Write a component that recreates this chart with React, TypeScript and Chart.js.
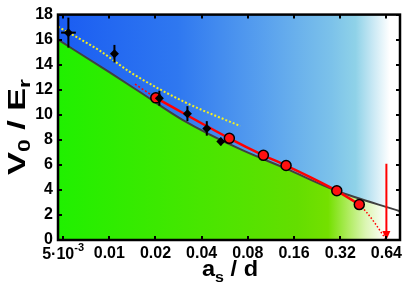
import React, { useEffect, useRef } from 'react';
import { Chart, registerables } from 'chart.js';
Chart.register(...registerables);

// ---------- data ----------
const xTickValues = [0.005, 0.01, 0.02, 0.04, 0.08, 0.16, 0.32, 0.64];
const xTickLabels = ['5·10', '0.01', '0.02', '0.04', '0.08', '0.16', '0.32', '0.64'];
const firstTickSup = '-3';
const yTickValues = [0, 2, 4, 6, 8, 10, 12, 14, 16, 18];

const boundaryX = [0.00463, 0.01, 0.0159, 0.03, 0.0713, 0.142, 0.3, 0.785];
const boundaryY = [16.0, 13.4, 11.8, 9.6, 7.25, 5.7, 3.95, 2.3];

const yellowX = [0.00463, 0.00871, 0.0137, 0.0312, 0.0713];
const yellowY = [17.04, 15.1, 13.4, 11.0, 9.1];

const diamondX = [0.00541, 0.0108, 0.0212, 0.0323, 0.0432, 0.0533];
const diamondY = [16.56, 14.88, 11.32, 10.09, 8.91, 7.86];
const diamondYErr = [1.2, 0.7, 0.6, 0.6, 0.58, 0.3];
const firstXErrRange = [0.00485, 0.00605];

const circleX = [0.0201, 0.0606, 0.101, 0.142, 0.304, 0.426];
const circleY = [11.35, 8.12, 6.76, 5.95, 3.93, 2.83];

const redDashX = [0.0147, 0.0201];
const redDashY = [12.45, 11.35];
const redDotX = [0.426, 0.48, 0.539, 0.6, 0.64];
const redDotY = [2.83, 2.15, 1.34, 0.5, 0];
const arrowX = [0.64, 0.64];
const arrowY = [6.08, 0.7];

const blueStops: [number, string][] = [
  [0, '#1a5cf2'], [0.35, '#2f78f0'], [0.6, '#58a0ee'], [0.8, '#7cc2ea'],
  [0.87, '#8fd2e8'], [0.92, '#c8e8f4'], [0.97, '#ffffff'], [1, '#ffffff'],
];
const greenStops: [number, string][] = [
  [0, '#20f000'], [0.5, '#50e400'], [0.7, '#64de00'], [0.79, '#74e000'],
  [0.85, '#b0ec60'], [0.9, '#dcf6b4'], [0.96, '#ffffff'], [1, '#ffffff'],
];

const pts = (xs: number[], ys: number[]) => xs.map((x, i) => ({ x, y: ys[i] }));
const FONT = "'Liberation Sans', Arial, sans-serif";

const decorPlugin = {
  id: 'decor',
  beforeDatasetsDraw(chart: any) {
    const { ctx, chartArea } = chart;
    const { left, right, top, bottom } = chartArea;
    const g = ctx.createLinearGradient(left, 0, right, 0);
    blueStops.forEach(([o, c]) => g.addColorStop(o, c));
    ctx.save();
    ctx.fillStyle = g;
    ctx.fillRect(left, top, right - left, bottom - top);
    ctx.restore();
  },
  afterDatasetsDraw(chart: any) {
    const { ctx, scales } = chart;
    const xs = scales.x, ys = scales.y;
    ctx.save();
    ctx.strokeStyle = '#000';
    ctx.lineWidth = 2;
    diamondX.forEach((x, i) => {
      const px = xs.getPixelForValue(x);
      ctx.beginPath();
      ctx.moveTo(px, ys.getPixelForValue(diamondY[i] - diamondYErr[i]));
      ctx.lineTo(px, ys.getPixelForValue(diamondY[i] + diamondYErr[i]));
      ctx.stroke();
    });
    const py0 = ys.getPixelForValue(diamondY[0]);
    ctx.beginPath();
    ctx.moveTo(xs.getPixelForValue(firstXErrRange[0]), py0);
    ctx.lineTo(xs.getPixelForValue(firstXErrRange[1]), py0);
    ctx.stroke();
    // arrow head
    const ax = xs.getPixelForValue(arrowX[1]);
    const ay = ys.getPixelForValue(0);
    ctx.fillStyle = '#ff0000';
    ctx.beginPath();
    ctx.moveTo(ax, ay);
    ctx.lineTo(ax - 4, ay - 9);
    ctx.lineTo(ax + 4, ay - 9);
    ctx.closePath();
    ctx.fill();
    ctx.restore();
  },
  afterDraw(chart: any) {
    const { ctx, chartArea, scales } = chart;
    const { left, right, top, bottom } = chartArea;
    const xs = scales.x, ys = scales.y;
    ctx.save();
    ctx.strokeStyle = '#000';
    ctx.lineWidth = 2;
    const tl = 4;
    xTickValues.forEach((v) => {
      const px = Math.round(xs.getPixelForValue(v));
      ctx.beginPath();
      ctx.moveTo(px, bottom); ctx.lineTo(px, bottom - tl);
      ctx.moveTo(px, top); ctx.lineTo(px, top + tl);
      ctx.stroke();
    });
    yTickValues.forEach((v) => {
      const py = Math.round(ys.getPixelForValue(v));
      ctx.beginPath();
      ctx.moveTo(left, py); ctx.lineTo(left + tl, py);
      ctx.moveTo(right, py); ctx.lineTo(right - tl, py);
      ctx.stroke();
    });
    ctx.lineWidth = 2.5;
    ctx.strokeRect(left, top, right - left, bottom - top);

    ctx.fillStyle = '#000';
    ctx.textBaseline = 'alphabetic';
    // first x tick label with superscript
    const fx = xs.getPixelForValue(xTickValues[0]);
    ctx.font = `bold 16px ${FONT}`;
    const w1 = ctx.measureText(xTickLabels[0]).width;
    ctx.font = `bold 11px ${FONT}`;
    const w2 = ctx.measureText(firstTickSup).width;
    const sx = fx - (w1 + w2) / 2;
    ctx.font = `bold 16px ${FONT}`;
    ctx.textAlign = 'left';
    ctx.fillText(xTickLabels[0], sx, 259);
    ctx.font = `bold 11px ${FONT}`;
    ctx.fillText(firstTickSup, sx + w1, 251);

    const drawParts = (parts: { t: string; s: number; dy: number }[], cx: number, base: number, target: number) => {
      let total = 0;
      parts.forEach((p) => { ctx.font = `bold ${p.s}px ${FONT}`; total += ctx.measureText(p.t).width; });
      const k = target / total;
      ctx.save();
      ctx.scale(k, 1);
      let x = cx / k - total / 2;
      parts.forEach((p) => {
        ctx.font = `bold ${p.s}px ${FONT}`;
        ctx.fillText(p.t, x, base + p.dy);
        x += ctx.measureText(p.t).width;
      });
      ctx.restore();
    };
    // x title
    drawParts([
      { t: 'a', s: 22, dy: 0 }, { t: 's', s: 15, dy: 6 }, { t: ' / d', s: 22, dy: 0 },
    ], 230, 276, 56);
    // y title
    ctx.save();
    ctx.translate(25, 127);
    ctx.rotate(-Math.PI / 2);
    drawParts([
      { t: 'V', s: 24, dy: 0 }, { t: '0', s: 16, dy: 5 }, { t: ' / E', s: 24, dy: 0 }, { t: 'r', s: 16, dy: 5 },
    ], 0, 0, 96);
    ctx.restore();
    ctx.restore();
  },
};

export default function App() {
  const ref = useRef<HTMLCanvasElement>(null);
  useEffect(() => {
    document.body.style.margin = '0';
    const tickFont = { family: FONT, size: 16, weight: 'bold' as const };
    const chart = new Chart(ref.current!, {
      type: 'scatter',
      data: {
        datasets: [
          {
            data: pts(diamondX, diamondY), pointStyle: 'rectRot', pointRadius: 4.5,
            backgroundColor: '#000', borderColor: '#000', borderWidth: 0, order: 1,
          },
          {
            data: pts(circleX, circleY), pointRadius: 5, backgroundColor: '#ff1010',
            borderColor: '#000', borderWidth: 1.5, order: 2,
          },
          {
            data: pts(arrowX, arrowY), showLine: true, pointRadius: 0, borderColor: '#ff0000',
            borderWidth: 2, order: 3,
          },
          {
            data: pts(circleX, circleY), showLine: true, pointRadius: 0, borderColor: '#ff0000',
            borderWidth: 2.5, cubicInterpolationMode: 'monotone', order: 4,
          },
          {
            data: pts(redDotX, redDotY), showLine: true, pointRadius: 0, borderColor: '#ff0000',
            borderWidth: 1.5, borderDash: [1.5, 2], cubicInterpolationMode: 'monotone', order: 5,
          },
          {
            data: pts(redDashX, redDashY), showLine: true, pointRadius: 0, borderColor: '#ff0000',
            borderWidth: 1.5, borderDash: [2, 2], order: 6,
          },
          {
            data: pts(yellowX, yellowY), showLine: true, pointRadius: 0, borderColor: '#f4f020',
            borderWidth: 2, borderDash: [2, 2], cubicInterpolationMode: 'monotone', order: 7,
          },
          {
            data: pts(boundaryX, boundaryY), showLine: true, pointRadius: 0, borderColor: '#404040',
            borderWidth: 2, cubicInterpolationMode: 'monotone', fill: 'origin', order: 8,
            backgroundColor: (c: any) => {
              const ca = c.chart.chartArea;
              if (!ca) return '#40e000';
              const g = c.chart.ctx.createLinearGradient(ca.left, 0, ca.right, 0);
              greenStops.forEach(([o, col]) => g.addColorStop(o, col));
              return g;
            },
          },
        ],
      },
      options: {
        responsive: false,
        animation: false,
        layout: { padding: { top: 11, right: 15, left: 0, bottom: 0 } },
        plugins: { legend: { display: false }, tooltip: { enabled: false } },
        scales: {
          x: {
            type: 'logarithmic', min: 0.00463, max: 0.785,
            grid: { display: false, drawTicks: false }, border: { display: false },
            afterBuildTicks: (s: any) => { s.ticks = xTickValues.map((v) => ({ value: v })); },
            afterFit: (s: any) => { s.height = 51; },
            ticks: {
              autoSkip: false, maxRotation: 0, minRotation: 0, padding: 4, color: '#000', font: tickFont,
              callback: (v: any) => {
                const i = xTickValues.findIndex((t) => Math.abs(t - Number(v)) < 1e-9);
                return i > 0 ? xTickLabels[i] : '';
              },
            },
          },
          y: {
            min: 0, max: 18,
            grid: { display: false, drawTicks: false }, border: { display: false },
            afterFit: (s: any) => { s.width = 58; },
            afterBuildTicks: (s: any) => { s.ticks = yTickValues.map((v) => ({ value: v })); },
            ticks: { padding: 5, color: '#000', font: tickFont, callback: (v: any) => String(v) },
          },
        },
      },
      plugins: [decorPlugin],
    } as any);
    return () => chart.destroy();
  }, []);
  return (
    <div style={{ position: 'absolute', left: 0, top: 0, width: 415, height: 291 }}>
      <canvas ref={ref} width={415} height={291} style={{ display: 'block' }} />
    </div>
  );
}
